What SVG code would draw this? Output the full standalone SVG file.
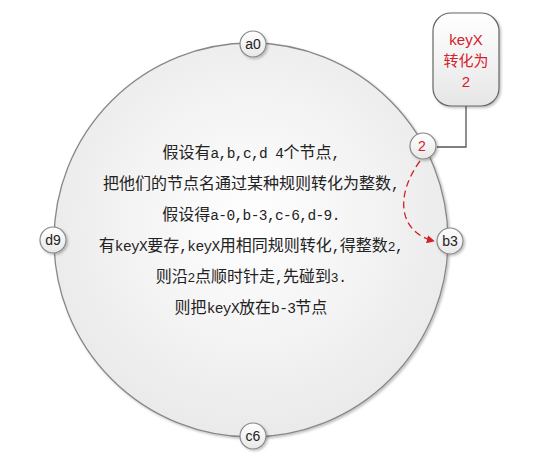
<svg xmlns="http://www.w3.org/2000/svg" width="554" height="459" viewBox="0 0 554 459">
<defs>
<radialGradient id="bigg" cx="50%" cy="45%" r="60%">
<stop offset="0" stop-color="#ffffff"/>
<stop offset="1" stop-color="#e8e8e8"/>
</radialGradient>
<linearGradient id="smallg" x1="0" y1="0" x2="0" y2="1">
<stop offset="0" stop-color="#ffffff"/>
<stop offset="1" stop-color="#e8e8e8"/>
</linearGradient>
<linearGradient id="boxg" x1="0" y1="0" x2="0" y2="1">
<stop offset="0" stop-color="#ffffff"/>
<stop offset="1" stop-color="#e6e6e6"/>
</linearGradient>
<marker id="arr" viewBox="0 0 10 10" refX="9" refY="5" markerWidth="8" markerHeight="8" orient="auto" markerUnits="userSpaceOnUse">
<path d="M0,0 L10,5 L0,10 z" fill="#d4202a"/>
</marker>
<filter id="sh" x="-20%" y="-20%" width="140%" height="140%">
<feDropShadow dx="1.5" dy="1.5" stdDeviation="1.2" flood-color="#000" flood-opacity="0.25"/>
</filter>
</defs>
<style>
.sn{fill:url(#smallg);stroke:#888;stroke-width:1.2}
.lbl{font-family:"Liberation Sans","Noto Sans CJK SC",sans-serif;font-size:14px;fill:#222;text-anchor:middle}
.txt{font-family:"Noto Sans CJK SC","Liberation Sans",sans-serif;font-size:16px;fill:#222;text-anchor:middle}
.m{font-family:"Liberation Mono",monospace;font-size:14.5px;letter-spacing:-0.6px}
.s{font-family:"Liberation Sans",sans-serif;font-size:13px}
.red{fill:#d4202a}
.kx{font-family:"Liberation Sans","Noto Sans CJK SC",sans-serif;font-size:15px;text-anchor:middle;fill:#d4202a}
</style>
<rect width="554" height="459" fill="#ffffff"/>
<g id="ring">
<circle cx="251" cy="240" r="197" fill="url(#bigg)" stroke="#888" stroke-width="1.3" filter="url(#sh)"/>
<text class="txt" x="251" y="158">假设有<tspan class="m">a,b,c,d 4</tspan>个节点<tspan class="m">,</tspan></text>
<text class="txt" x="251" y="189">把他们的节点名通过某种规则转化为整数<tspan class="m">,</tspan></text>
<text class="txt" x="251" y="220">假设得<tspan class="m">a-0,b-3,c-6,d-9.</tspan></text>
<text class="txt" x="251" y="251">有<tspan class="m">keyX</tspan>要存<tspan class="m">,keyX</tspan>用相同规则转化<tspan class="m">,</tspan>得整数<tspan class="s">2</tspan><tspan class="m">,</tspan></text>
<text class="txt" x="251" y="282">则沿<tspan class="s">2</tspan>点顺时针走<tspan class="m">,</tspan>先碰到<tspan class="s">3</tspan><tspan class="m">.</tspan></text>
<text class="txt" x="251" y="313">则把<tspan class="m">keyX</tspan>放在<tspan class="m">b-3</tspan>节点</text>
</g>
<g id="connectors">
<polyline points="466,106 466,147 437,147" fill="none" stroke="#555" stroke-width="1.3"/>
<path d="M420,161 C395,195 398,232 434,241" fill="none" stroke="#d4202a" stroke-width="1.3" stroke-dasharray="7,4" marker-end="url(#arr)"/>
</g>
<g id="a0">
<circle class="sn" cx="253" cy="44" r="13" filter="url(#sh)"/>
<text class="lbl" x="253" y="49">a0</text>
</g>
<g id="b3">
<circle class="sn" cx="450" cy="241" r="13" filter="url(#sh)"/>
<text class="lbl" x="450" y="246">b3</text>
</g>
<g id="c6">
<circle class="sn" cx="253" cy="436" r="13" filter="url(#sh)"/>
<text class="lbl" x="253" y="441">c6</text>
</g>
<g id="d9">
<circle class="sn" cx="53" cy="240" r="13" filter="url(#sh)"/>
<text class="lbl" x="53" y="245">d9</text>
</g>
<g id="k2">
<circle class="sn" cx="423" cy="146" r="13" filter="url(#sh)"/>
<text class="lbl red" x="422" y="151">2</text>
</g>
<g id="keyX">
<rect x="433" y="13" width="66" height="93" rx="18" ry="18" fill="url(#boxg)" stroke="#666" stroke-width="1.2" filter="url(#sh)"/>
<text class="kx" x="466" y="45">keyX</text>
<text class="kx" x="466" y="66">转化为</text>
<text class="kx" x="466" y="87">2</text>
</g>
</svg>
